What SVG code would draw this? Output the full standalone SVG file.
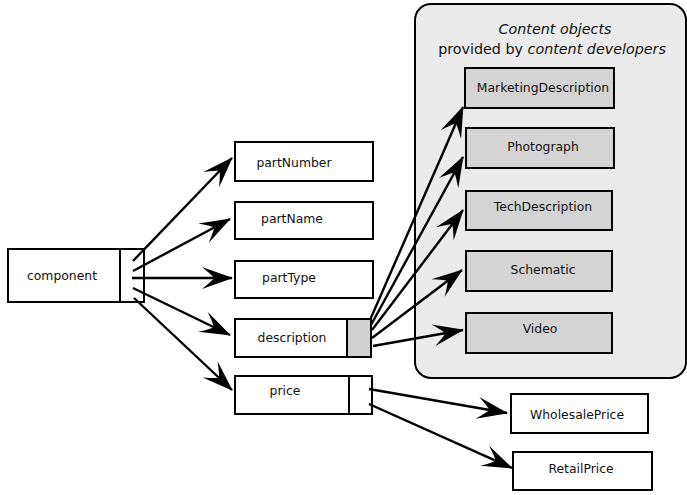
<svg xmlns="http://www.w3.org/2000/svg" width="687" height="495" viewBox="0 0 687 495">
<style>
.box{fill:#fff;stroke:#000;stroke-width:2}
.gbox{fill:#d4d4d4;stroke:#000;stroke-width:2}
.div{stroke:#000;stroke-width:2;fill:none}
.t{font-family:"DejaVu Sans",Verdana,sans-serif;font-size:12.4px;fill:#111;text-anchor:middle}
.title{font-family:"DejaVu Sans",Verdana,sans-serif;font-size:14.3px;fill:#111;text-anchor:middle}
.it{font-style:italic}
.conn line{stroke:#000;stroke-width:2.4;fill:none;marker-end:url(#ah)}
</style>
<defs>
<marker id="ah" viewBox="-31 -12 33 24" markerWidth="33" markerHeight="24" refX="0" refY="0" orient="auto" markerUnits="userSpaceOnUse">
<path d="M1,0 L-30,-11 Q-19,-2 -18,0 Q-19,2 -30,11 Z" fill="#000"/>
</marker>
</defs>
<rect width="687" height="495" fill="#fff"/>

<g id="panel">
<rect x="415" y="4" width="271" height="374" rx="16" ry="16" fill="#ebebeb" stroke="#000" stroke-width="2"/>
<text class="title" x="555" y="34"><tspan class="it">Content objects</tspan></text>
<text class="title" x="552" y="54">provided by <tspan class="it">content developers</tspan></text>
</g>

<g id="component">
<rect class="box" x="8" y="249" width="136" height="53"/>
<line class="div" x1="120" y1="249" x2="120" y2="302"/>
<text class="t" x="62" y="280">component</text>
</g>

<g id="partNumber">
<rect class="box" x="235" y="142" width="138" height="39"/>
<text class="t" x="294" y="167">partNumber</text>
</g>
<g id="partName">
<rect class="box" x="235" y="202" width="138" height="37"/>
<text class="t" x="292" y="223">partName</text>
</g>
<g id="partType">
<rect class="box" x="235" y="261" width="138" height="37"/>
<text class="t" x="289" y="282">partType</text>
</g>
<g id="description">
<rect class="box" x="235" y="319" width="136" height="38"/>
<rect x="347" y="319" width="24" height="38" fill="#d0d0d0" stroke="#000" stroke-width="2"/>
<text class="t" x="292" y="342">description</text>
</g>
<g id="price">
<rect class="box" x="235" y="376" width="137" height="38"/>
<line class="div" x1="349" y1="376" x2="349" y2="414"/>
<text class="t" x="285" y="395">price</text>
</g>

<g id="MarketingDescription">
<rect class="gbox" x="465" y="68" width="149" height="40"/>
<text class="t" x="543" y="92">MarketingDescription</text>
</g>
<g id="Photograph">
<rect class="gbox" x="466" y="128" width="148" height="40"/>
<text class="t" x="543" y="151">Photograph</text>
</g>
<g id="TechDescription">
<rect class="gbox" x="466" y="191" width="146" height="39"/>
<text class="t" x="543" y="211">TechDescription</text>
</g>
<g id="Schematic">
<rect class="gbox" x="466" y="251" width="146" height="40"/>
<text class="t" x="543" y="274">Schematic</text>
</g>
<g id="Video">
<rect class="gbox" x="466" y="313" width="146" height="40"/>
<text class="t" x="540" y="333">Video</text>
</g>

<g id="WholesalePrice">
<rect class="box" x="511" y="394" width="137" height="39"/>
<text class="t" x="577" y="419">WholesalePrice</text>
</g>
<g id="RetailPrice">
<rect class="box" x="513" y="452" width="139" height="38"/>
<text class="t" x="581" y="473">RetailPrice</text>
</g>

<g id="connectors" class="conn">
<line x1="133" y1="261" x2="232" y2="158"/>
<line x1="133" y1="271" x2="230" y2="219"/>
<line x1="132" y1="278" x2="232" y2="278"/>
<line x1="133" y1="288" x2="230" y2="335"/>
<line x1="134" y1="298" x2="232" y2="390"/>
<line x1="370" y1="320" x2="463" y2="107"/>
<line x1="371" y1="325" x2="463" y2="157"/>
<line x1="372" y1="330" x2="463" y2="210"/>
<line x1="372" y1="338" x2="462" y2="270"/>
<line x1="373" y1="346" x2="463" y2="330"/>
<line x1="369" y1="389" x2="507" y2="413"/>
<line x1="369" y1="404" x2="512" y2="468"/>
</g>
</svg>
